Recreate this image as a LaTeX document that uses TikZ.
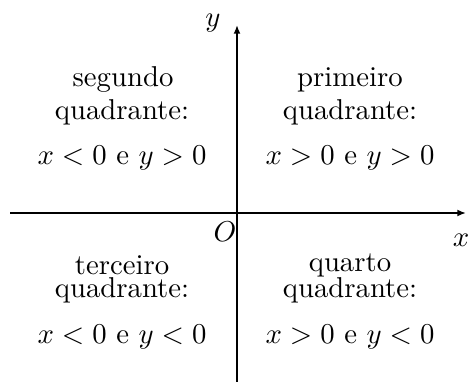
\documentclass[tikz,border=0pt]{standalone}
\usetikzlibrary{arrows.meta}
\tikzset{
  axis/.style={line width=0.9pt,-{Latex[length=3pt,width=2.4pt]}},
  lbl/.style={inner sep=0pt,anchor=base},
}
\begin{document}
\begin{tikzpicture}[x=0.348pt,y=-0.348pt]
\useasboundingbox (0,0) rectangle (470,382);
\coordinate (xl) at (10,213);
\coordinate (xr) at (466,213);
\coordinate (yb) at (237,382);
\coordinate (yt) at (237,25);
\draw[axis] (xl) -- (xr);
\draw[axis] (yb) -- (yt);
\node[inner sep=0pt] (ylab) at (213,23) {$y$};
\node[inner sep=0pt] (xlab) at (461,240) {$x$};
\node[inner sep=0pt] (O) at (225,232) {$O$};
% second quadrant
\node[lbl] (s1) at (123,87) {segundo};
\node[lbl] (s2) at (122,120) {quadrante:};
\node[lbl] (s3) at (122,165) {$x<0$ e $y>0$};
% first quadrant
\node[lbl] (p1) at (350,87) {primeiro};
\node[lbl] (p2) at (350,120) {quadrante:};
\node[lbl] (p3) at (350,165) {$x>0$ e $y>0$};
% third quadrant
\node[lbl] (t1) at (122,274) {terceiro};
\node[lbl] (t2) at (122,297) {quadrante:};
\node[lbl] (t3) at (122,343) {$x<0$ e $y<0$};
% fourth quadrant
\node[lbl] (q1) at (350,271) {quarto};
\node[lbl] (q2) at (350,297) {quadrante:};
\node[lbl] (q3) at (350,343) {$x>0$ e $y<0$};
\end{tikzpicture}
\end{document}
